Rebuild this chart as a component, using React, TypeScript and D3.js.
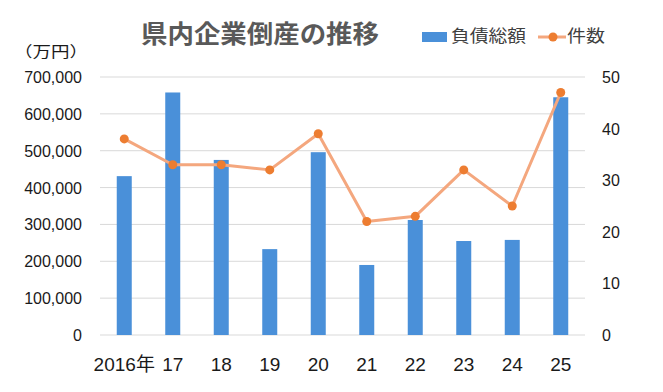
import React, { useEffect, useRef } from 'react';
import * as d3 from 'd3';

const years = ['2016年', '17', '18', '19', '20', '21', '22', '23', '24', '25'];
const debt = [431000, 658000, 475000, 233000, 496000, 190000, 312000, 255000, 258000, 645000];
const counts = [38, 33, 33, 32, 39, 22, 23, 32, 25, 47];
const leftTicks = [0, 100000, 200000, 300000, 400000, 500000, 600000, 700000];
const rightTicks = [0, 10, 20, 30, 40, 50];

const FONT = '"Liberation Sans", Arial, "Noto Sans CJK JP", sans-serif';
const JP = '"Noto Sans CJK JP", sans-serif';

function App() {
  const ref = useRef<SVGSVGElement>(null);

  useEffect(() => {
    if (!ref.current) return;
    const svg = d3.select(ref.current);
    svg.selectAll('*').remove();

    const W = 663, H = 392;
    const m = { left: 100, right: 78, top: 77, bottom: 57 };

    svg.append('rect').attr('width', W).attr('height', H).attr('fill', '#fff');

    const x = d3.scaleBand().domain(years).range([m.left, W - m.right]);
    const yL = d3.scaleLinear().domain([0, 700000]).range([H - m.bottom, m.top]);
    const yR = d3.scaleLinear().domain([0, 50]).range([H - m.bottom, m.top]);
    const cx = (i: number) => (x(years[i]) as number) + x.bandwidth() / 2;

    // gridlines
    svg.append('g')
      .selectAll('line')
      .data(leftTicks)
      .join('line')
      .attr('x1', m.left).attr('x2', W - m.right)
      .attr('y1', d => yL(d)).attr('y2', d => yL(d))
      .attr('stroke', '#d9d9d9').attr('stroke-width', 1);

    // left axis labels
    const fmt = d3.format(',');
    svg.append('g')
      .selectAll('text')
      .data(leftTicks)
      .join('text')
      .attr('x', 82).attr('y', d => yL(d) + 6)
      .attr('text-anchor', 'end')
      .attr('font-family', FONT).attr('font-size', 16).attr('fill', '#1a1a1a')
      .text(d => fmt(d));

    // right axis labels
    svg.append('g')
      .selectAll('text')
      .data(rightTicks)
      .join('text')
      .attr('x', 602).attr('y', d => yR(d) + 6)
      .attr('text-anchor', 'start')
      .attr('font-family', FONT).attr('font-size', 16).attr('fill', '#1a1a1a')
      .text(d => d);

    // x labels
    svg.append('g')
      .selectAll('text')
      .data(years)
      .join('text')
      .attr('x', (d, i) => cx(i))
      .attr('y', 371)
      .attr('text-anchor', 'middle')
      .attr('font-family', FONT).attr('font-size', 19).attr('fill', '#1a1a1a')
      .text(d => d);

    // bars
    const bw = 15;
    svg.append('g')
      .selectAll('rect')
      .data(debt)
      .join('rect')
      .attr('x', (d, i) => cx(i) - bw / 2)
      .attr('y', d => yL(d))
      .attr('width', bw)
      .attr('height', d => yL(0) - yL(d))
      .attr('fill', '#4a90d9');

    // line
    const line = d3.line<number>()
      .x((d, i) => cx(i))
      .y(d => yR(d));
    svg.append('path')
      .datum(counts)
      .attr('d', line)
      .attr('fill', 'none')
      .attr('stroke', '#f4a77e')
      .attr('stroke-width', 3)
      .attr('stroke-linejoin', 'round');

    svg.append('g')
      .selectAll('circle')
      .data(counts)
      .join('circle')
      .attr('cx', (d, i) => cx(i))
      .attr('cy', d => yR(d))
      .attr('r', 4.5)
      .attr('fill', '#ed7d31');

    // title
    svg.append('text')
      .attr('x', 141).attr('y', 43)
      .attr('font-family', JP)
      .attr('font-weight', 'bold')
      .attr('font-size', 25)
      .attr('textLength', 238)
      .attr('lengthAdjust', 'spacingAndGlyphs')
      .attr('fill', '#595959')
      .text('県内企業倒産の推移');

    // unit
    svg.append('text')
      .attr('x', 14).attr('y', 57)
      .attr('font-family', JP)
      .attr('font-size', 15)
      .attr('textLength', 74)
      .attr('lengthAdjust', 'spacingAndGlyphs')
      .attr('fill', '#1a1a1a')
      .text('（万円）');

    // legend
    const lg = svg.append('g');
    lg.append('rect').attr('x', 422).attr('y', 32).attr('width', 25).attr('height', 10).attr('fill', '#4a90d9');
    lg.append('text').attr('x', 451).attr('y', 42)
      .attr('font-family', JP).attr('font-size', 17)
      .attr('textLength', 75).attr('lengthAdjust', 'spacingAndGlyphs')
      .attr('fill', '#404040')
      .text('負債総額');
    lg.append('line').attr('x1', 538).attr('x2', 566).attr('y1', 37).attr('y2', 37)
      .attr('stroke', '#f4a77e').attr('stroke-width', 3);
    lg.append('circle').attr('cx', 553).attr('cy', 37).attr('r', 4.5).attr('fill', '#ed7d31');
    lg.append('text').attr('x', 567).attr('y', 42)
      .attr('font-family', JP).attr('font-size', 17)
      .attr('textLength', 38).attr('lengthAdjust', 'spacingAndGlyphs')
      .attr('fill', '#404040')
      .text('件数');
  }, []);

  return (
    <svg ref={ref} width={663} height={392}
      style={{ position: 'absolute', left: 0, top: 0, display: 'block' }} />
  );
}

export default App;
